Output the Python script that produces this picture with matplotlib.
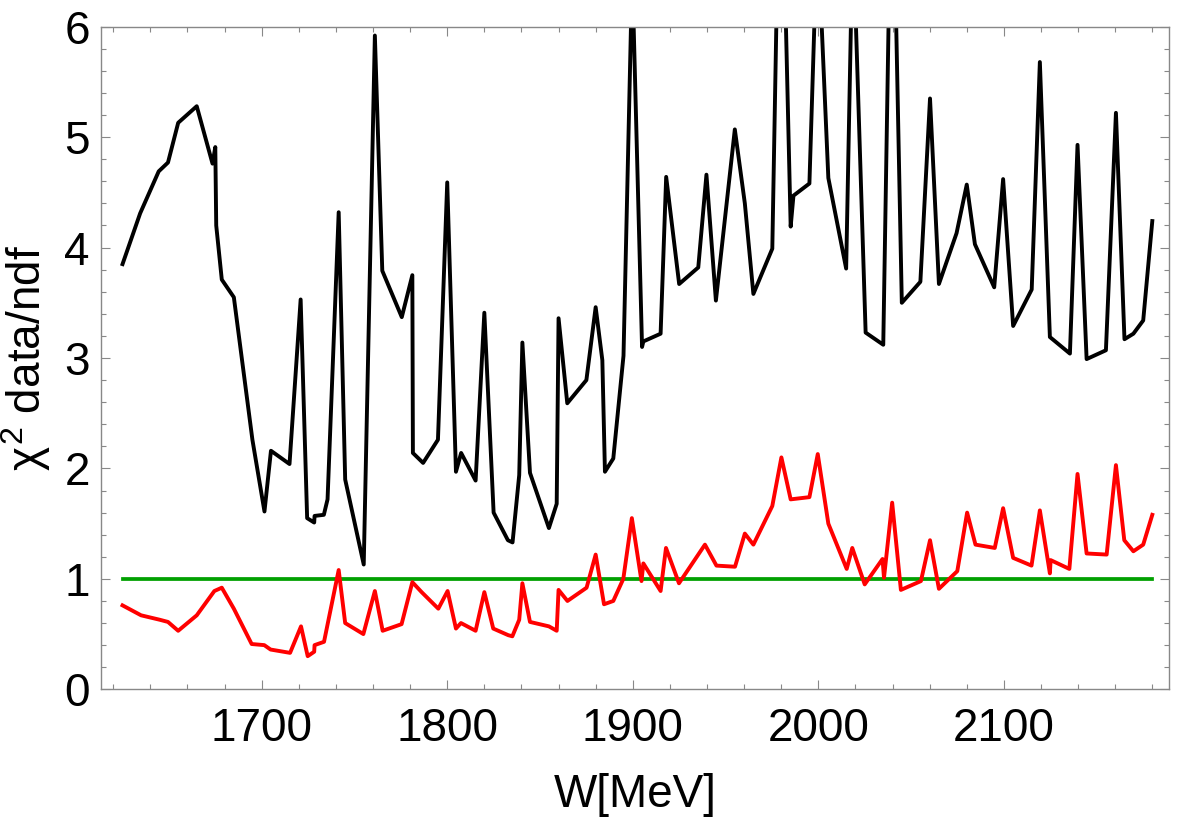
import matplotlib
matplotlib.use("Agg")
import matplotlib.pyplot as plt
from matplotlib.ticker import MultipleLocator

"""Values read off the chart"""
w_black = [1625, 1634.5, 1644.5, 1649.5, 1655, 1665, 1673.5, 1675, 1675.5, 1678.5,
           1685, 1695, 1701.5, 1705, 1715, 1721, 1724.5, 1728.3, 1728.5, 1733.5,
           1735.5, 1741.5, 1745, 1755, 1761, 1765, 1775.5, 1781.2, 1781.5, 1787,
           1795, 1800, 1804.7, 1807.5, 1815.3, 1820, 1825, 1832.7, 1835.2, 1838.8,
           1840.5, 1844.6, 1854.8, 1859, 1860, 1864.7, 1875, 1880, 1883.6, 1885,
           1889.5, 1895, 1899.7, 1905, 1905.7, 1915, 1918, 1925, 1935.3, 1939.7,
           1944.8, 1955, 1960.4, 1965, 1975.2, 1979.6, 1985.1, 1986.6, 1995.2, 1999.5,
           2005.4, 2015, 2018.6, 2025.5, 2035, 2039.7, 2045, 2055, 2060.2, 2065,
           2074.5, 2080, 2084.4, 2094.8, 2099.6, 2105, 2115, 2119.4, 2124.8, 2135.6,
           2139.7, 2144.6, 2155, 2160.4, 2165, 2169.8, 2175.1, 2180]
chi2_black = [3.85, 4.31, 4.69, 4.77, 5.13, 5.28, 4.76, 4.91, 4.20, 3.71,
              3.55, 2.26, 1.61, 2.16, 2.04, 3.53, 1.55, 1.51, 1.57, 1.58,
              1.72, 4.32, 1.90, 1.13, 5.92, 3.79, 3.37, 3.75, 2.14, 2.05,
              2.26, 4.59, 1.97, 2.14, 1.89, 3.41, 1.60, 1.35, 1.33, 1.94,
              3.14, 1.96, 1.46, 1.68, 3.36, 2.59, 2.80, 3.46, 2.98, 1.97,
              2.09, 3.02, 6.5, 3.10, 3.15, 3.22, 4.64, 3.67, 3.82, 4.66,
              3.52, 5.07, 4.40, 3.58, 3.99, 8.1, 4.19, 4.47, 4.58, 6.9,
              4.63, 3.81, 6.9, 3.23, 3.12, 7.9, 3.50, 3.69, 5.35, 3.67,
              4.13, 4.57, 4.03, 3.64, 4.62, 3.29, 3.62, 5.68, 3.19, 3.04,
              4.93, 2.99, 3.07, 5.22, 3.17, 3.22, 3.34, 4.24]

w_red = [1625, 1635, 1645, 1649.5, 1655, 1665, 1674.5, 1678.5, 1685, 1694.6,
         1701.4, 1704.8, 1715.3, 1721.2, 1724.8, 1728.3, 1728.5, 1733.6, 1741.5, 1745,
         1754.8, 1761, 1765.2, 1775.4, 1781.2, 1786.2, 1795.2, 1800.2, 1804.7, 1807.4,
         1815.3, 1820, 1824.8, 1832.9, 1835.1, 1838.8, 1840.5, 1844.6, 1854.8, 1859,
         1860, 1864.8, 1875.1, 1880, 1884.5, 1889.5, 1894.9, 1899.5, 1904.7, 1905.7,
         1915, 1917.9, 1924.9, 1938.9, 1945.1, 1955.1, 1960.4, 1965, 1975.2, 1980.1,
         1985.1, 1995.2, 1999.7, 2005.4, 2015.3, 2018.3, 2025, 2034.6, 2035.4, 2039.8,
         2044.5, 2055.3, 2060.2, 2065, 2074.9, 2080.2, 2084.7, 2095.1, 2099.6, 2105,
         2114.9, 2119.4, 2124.8, 2125.2, 2135.3, 2139.7, 2144.6, 2155.4, 2160.4, 2164.9,
         2169.8, 2175.1, 2180]
chi2_red = [0.76, 0.67, 0.63, 0.61, 0.53, 0.67, 0.89, 0.92, 0.73, 0.41,
            0.40, 0.36, 0.33, 0.57, 0.30, 0.34, 0.40, 0.43, 1.08, 0.60,
            0.50, 0.89, 0.53, 0.59, 0.97, 0.88, 0.73, 0.89, 0.55, 0.60,
            0.53, 0.88, 0.55, 0.49, 0.48, 0.63, 0.96, 0.61, 0.57, 0.53,
            0.90, 0.80, 0.92, 1.22, 0.77, 0.80, 1.00, 1.55, 0.98, 1.14,
            0.89, 1.28, 0.96, 1.31, 1.12, 1.11, 1.41, 1.31, 1.66, 2.10,
            1.72, 1.74, 2.13, 1.50, 1.09, 1.28, 0.95, 1.18, 1.01, 1.69,
            0.90, 0.98, 1.35, 0.91, 1.07, 1.60, 1.31, 1.28, 1.64, 1.19,
            1.12, 1.62, 1.05, 1.17, 1.09, 1.95, 1.23, 1.22, 2.03, 1.35,
            1.25, 1.31, 1.58]

reference_level = 1.0

"""Fonts"""
plt.rcParams['font.family'] = ['Liberation Sans', 'DejaVu Sans']
plt.rcParams['mathtext.fontset'] = 'custom'
plt.rcParams['mathtext.rm'] = 'Liberation Sans'
plt.rcParams['mathtext.it'] = 'Liberation Sans'

fig = plt.figure(figsize=(11.77, 8.24), dpi=100)
ax = fig.add_axes([101 / 1177, 1 - 689.3 / 824, 1068 / 1177, 662.6 / 824])

"""Plot lines"""
ax.plot([w_black[0], w_black[-1]], [reference_level, reference_level],
        color='#00a000', lw=2.7, zorder=1)
ax.plot(w_black, chi2_black, color='black', lw=2.8, zorder=2)
ax.plot(w_red, chi2_red, color='#ff0000', lw=2.8, zorder=3)

ax.set_xlim(1613.4, 2189)
ax.set_ylim(0, 6)

ax.xaxis.set_major_locator(MultipleLocator(100))
ax.xaxis.set_minor_locator(MultipleLocator(20))
ax.yaxis.set_major_locator(MultipleLocator(1))
ax.yaxis.set_minor_locator(MultipleLocator(0.2))

frame_color = '#888888'
for s in ax.spines.values():
    s.set_color(frame_color)
    s.set_linewidth(1.0)

ax.tick_params(which='both', direction='in', top=True, right=True,
               color=frame_color, width=0.8, labelsize=33)
ax.tick_params(which='major', length=6.7)
ax.tick_params(which='minor', length=3.8)
ax.tick_params(axis='x', pad=13)
ax.tick_params(axis='y', pad=8)

ax.set_xlabel('W[MeV]', fontsize=33)
ax.xaxis.set_label_coords(0.5, -0.126)
ax.set_ylabel(r'$\chi^2$ data/ndf', fontsize=33)
ax.yaxis.set_label_coords(-0.045, 0.5)

fig.savefig('out.png', dpi=100)
